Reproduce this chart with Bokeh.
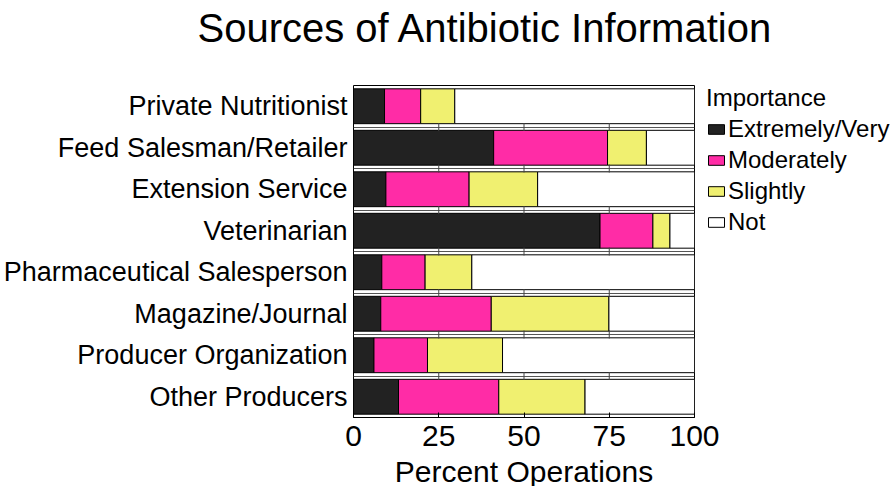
from bokeh.plotting import figure
from bokeh.models import Legend, LegendItem, FixedTicker, ColumnDataSource, Title
from bokeh.embed import file_html
from bokeh.resources import INLINE

sources = ["Private Nutritionist", "Feed Salesman/Retailer", "Extension Service",
           "Veterinarian", "Pharmaceutical Salesperson", "Magazine/Journal",
           "Producer Organization", "Other Producers"]
extremely = [9.1, 41.1, 9.5, 72.3, 8.3, 8.0, 6.0, 13.2]
moderately = [10.6, 33.4, 24.4, 15.5, 12.7, 32.4, 15.7, 29.4]
slightly = [10.0, 11.4, 20.1, 5.0, 13.7, 34.5, 22.0, 25.3]
not_imp = [70.3, 14.1, 46.0, 7.2, 65.3, 25.1, 56.3, 32.1]
levels = ["Extremely/Very", "Moderately", "Slightly", "Not"]
colors = ["#222222", "#ff2ca6", "#f0f070", "#ffffff"]
x_ticks = [0, 25, 50, 75, 100]

FONT = "Liberation Sans"
n = len(sources)
ypos = [n - 1 - i for i in range(n)]

data = dict(y=ypos, e=extremely, m=moderately, s=slightly, n=not_imp)
src = ColumnDataSource(data)

p = figure(frame_width=341, frame_height=332, x_range=(0, 100), y_range=(-0.5, n - 0.5),
           output_backend="svg", toolbar_location=None,
           min_border_left=351, min_border_right=195, min_border_top=85,
           min_border_bottom=0)
p.outline_line_color = "black"
p.outline_line_width = 1

renderers = p.hbar_stack(["e", "m", "s", "n"], y="y", height=0.84, source=src,
                         color=colors, line_color="black", line_width=1)

# row separators
p.xgrid.visible = False
p.ygrid.ticker = FixedTicker(ticks=[k + 0.5 for k in range(n - 1)])
p.ygrid.grid_line_color = "#555555"
p.ygrid.grid_line_width = 1

tx, ty = [], []
for b in [k + 0.5 for k in range(n - 1)]:
    for t in x_ticks[1:-1]:
        tx.append(t)
        ty.append(b)
p.scatter(tx, ty, marker="dash", angle=1.5708, size=8, line_color="#444444", line_width=1)

# axes
p.yaxis.ticker = FixedTicker(ticks=ypos)
p.yaxis.major_label_overrides = {y: s for y, s in zip(ypos, sources)}
p.yaxis.major_label_text_font = FONT
p.yaxis.major_label_text_font_size = "27px"
p.yaxis.major_label_text_color = "black"
p.yaxis.major_tick_out = 0
p.yaxis.major_tick_in = 0
p.yaxis.minor_tick_out = 0
p.yaxis.minor_tick_in = 0
p.yaxis.axis_line_color = None
p.yaxis.major_label_standoff = 6

p.xaxis.ticker = FixedTicker(ticks=x_ticks)
p.xaxis.major_label_text_font = FONT
p.xaxis.major_label_text_font_size = "30px"
p.xaxis.major_label_text_color = "black"
p.xaxis.major_tick_in = 5
p.xaxis.major_tick_out = 0
p.xaxis.minor_tick_out = 0
p.xaxis.axis_line_color = "black"
p.xaxis.major_label_standoff = 8
p.xaxis.axis_label = "Percent Operations"
p.xaxis.axis_label_text_font = FONT
p.xaxis.axis_label_text_font_size = "30px"
p.xaxis.axis_label_text_font_style = "normal"
p.xaxis.axis_label_text_color = "black"
p.xaxis.axis_label_standoff = 6

# title (a thin spacer title keeps the heading near the top edge)
p.title.text = ""
p.add_layout(Title(text=" ", text_font_size="2px", standoff=30), "above")
p.add_layout(Title(text="Sources of Antibiotic Information", text_font=FONT,
                   text_font_size="40px", text_font_style="normal", text_color="black",
                   align="left", offset=-156, vertical_align="bottom", standoff=4), "above")

legend = Legend(items=[LegendItem(label=l, renderers=[r]) for l, r in zip(levels, renderers)],
                location=(12, 181), title="Importance",
                title_text_font=FONT, title_text_font_size="24px", title_text_font_style="normal",
                title_text_color="black", title_standoff=3,
                label_text_font=FONT, label_text_font_size="24px", label_text_color="black",
                glyph_width=20, glyph_height=12, label_standoff=2,
                label_height=24, spacing=3, padding=0, margin=0,
                border_line_color=None, background_fill_alpha=0)
p.add_layout(legend, "right")

open("out.html", "w").write(file_html(p, INLINE))
